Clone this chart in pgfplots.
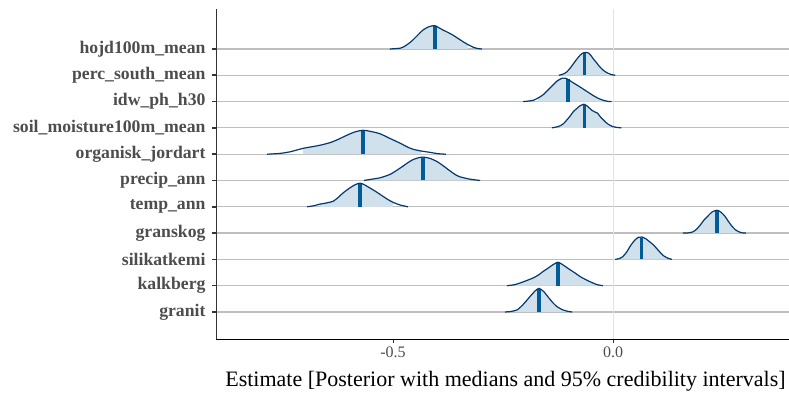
\documentclass[border=0pt]{standalone}
\usepackage{pgfplots}
\pgfplotsset{compat=1.18}
\usepackage{fontspec}
\setmainfont{Liberation Serif}
\definecolor{fillc}{HTML}{D1E1EC}
\definecolor{linec}{HTML}{03396C}
\definecolor{medc}{HTML}{005B96}
\definecolor{txtc}{HTML}{4D4D4D}
\definecolor{gridc}{HTML}{BEBEBE}
\definecolor{zeroc}{HTML}{E3E3E3}
\begin{document}
\begin{tikzpicture}
\useasboundingbox (0,0) rectangle (789bp,394bp);
\begin{axis}[
 at={(216bp,55bp)}, anchor=south west, scale only axis, width=573bp, height=330bp,
 xmin=-0.9023, xmax=0.4, ymin=-0.027, ymax=12.521,
 axis x line*=bottom, axis y line*=left,
 x axis line style={-, black, line width=0.9bp},
 y axis line style={-, black!80, line width=0.9bp},
 xtick={-0.5,0}, xticklabels={-0.5,0.0},
 ytick={1,2,3,4,5,6,7,8,9,10,11},
 yticklabels={granit,kalkberg,silikatkemi,granskog,temp\_ann,precip\_ann,organisk\_jordart,soil\_moisture100m\_mean,idw\_ph\_h30,perc\_south\_mean,hojd100m\_mean},
 tick align=outside, major tick length=4bp,
 y tick style={line width=1.6bp, black!80},
 x tick style={line width=0.8bp, black!80},
 yticklabel style={font=\fontsize{17.7bp}{20bp}\selectfont\bfseries, text=txtc, xshift=-3bp},
 xticklabel style={font=\fontsize{16bp}{18bp}\selectfont, text=txtc},
 xlabel={Estimate [Posterior with medians and 95\% credibility intervals]},
 xlabel style={font=\fontsize{22bp}{24bp}\selectfont, text=black, yshift=-7bp, xshift=3bp},
 ymajorgrids, grid style={gridc, line width=1.2bp},
]
\addplot[zeroc, line width=1bp] coordinates {(0,-0.027)(0,12.521)};
% ---------- fills (95% intervals)
\addplot[fill=fillc, draw=none] coordinates {(-0.484,11)(-0.484,11.03)(-0.475,11.09)(-0.465,11.2)(-0.455,11.34)(-0.443,11.54)(-0.432,11.72)(-0.418,11.85)(-0.405,11.89)(-0.395,11.8)(-0.386,11.72)(-0.375,11.63)(-0.364,11.53)(-0.352,11.4)(-0.341,11.28)(-0.33,11.17)(-0.33,11)};
\addplot[fill=fillc, draw=none] coordinates {(-0.113,10)(-0.113,10.05)(-0.105,10.13)(-0.097,10.28)(-0.09,10.44)(-0.082,10.62)(-0.075,10.76)(-0.068,10.85)(-0.062,10.87)(-0.056,10.85)(-0.05,10.75)(-0.045,10.63)(-0.037,10.47)(-0.03,10.32)(-0.022,10.19)(-0.014,10.1)(-0.014,10)};
\addplot[fill=fillc, draw=none] coordinates {(-0.17,9)(-0.17,9.14)(-0.158,9.27)(-0.143,9.52)(-0.128,9.77)(-0.117,9.88)(-0.108,9.89)(-0.1,9.82)(-0.09,9.71)(-0.079,9.6)(-0.068,9.48)(-0.056,9.35)(-0.045,9.23)(-0.033,9.12)(-0.022,9.05)(-0.022,9)};
\addplot[fill=fillc, draw=none] coordinates {(-0.12,8)(-0.12,8.08)(-0.112,8.17)(-0.105,8.3)(-0.097,8.46)(-0.09,8.62)(-0.082,8.74)(-0.075,8.84)(-0.066,8.9)(-0.06,8.85)(-0.054,8.76)(-0.048,8.67)(-0.042,8.61)(-0.036,8.57)(-0.031,8.47)(-0.026,8.37)(-0.018,8.24)(-0.011,8.14)(-0.002,8.06)(-0.002,8)};
\addplot[fill=fillc, draw=none] coordinates {(-0.705,7)(-0.705,7.22)(-0.682,7.29)(-0.666,7.34)(-0.643,7.44)(-0.625,7.56)(-0.605,7.72)(-0.586,7.85)(-0.568,7.91)(-0.552,7.87)(-0.53,7.78)(-0.507,7.6)(-0.484,7.42)(-0.468,7.28)(-0.455,7.19)(-0.436,7.12)(-0.436,7)};
\addplot[fill=fillc, draw=none] coordinates {(-0.552,6)(-0.552,6.04)(-0.53,6.1)(-0.507,6.23)(-0.493,6.37)(-0.477,6.55)(-0.466,6.68)(-0.455,6.79)(-0.443,6.86)(-0.432,6.89)(-0.416,6.84)(-0.4,6.72)(-0.386,6.56)(-0.37,6.36)(-0.358,6.22)(-0.348,6.14)(-0.336,6.09)(-0.325,6.05)(-0.325,6)};
\addplot[fill=fillc, draw=none] coordinates {(-0.666,5)(-0.666,5.1)(-0.65,5.15)(-0.636,5.21)(-0.625,5.35)(-0.614,5.52)(-0.598,5.72)(-0.586,5.84)(-0.575,5.9)(-0.564,5.83)(-0.552,5.71)(-0.541,5.6)(-0.53,5.48)(-0.514,5.3)(-0.5,5.17)(-0.5,5)};
\addplot[fill=fillc, draw=none] coordinates {(0.172,4)(0.172,4.01)(0.182,4.05)(0.19,4.15)(0.198,4.3)(0.206,4.48)(0.214,4.62)(0.225,4.8)(0.236,4.87)(0.245,4.8)(0.254,4.65)(0.262,4.45)(0.27,4.27)(0.278,4.13)(0.286,4.05)(0.286,4)};
\addplot[fill=fillc, draw=none] coordinates {(0.014,3)(0.014,3.03)(0.022,3.1)(0.031,3.28)(0.041,3.55)(0.05,3.74)(0.058,3.84)(0.066,3.85)(0.075,3.78)(0.084,3.66)(0.092,3.55)(0.099,3.42)(0.107,3.27)(0.114,3.15)(0.124,3.05)(0.124,3)};
\addplot[fill=fillc, draw=none] coordinates {(-0.223,2)(-0.223,2.04)(-0.205,2.14)(-0.182,2.29)(-0.17,2.4)(-0.159,2.54)(-0.148,2.66)(-0.139,2.77)(-0.125,2.89)(-0.111,2.76)(-0.098,2.61)(-0.086,2.48)(-0.075,2.35)(-0.063,2.24)(-0.052,2.15)(-0.036,2.04)(-0.036,2)};
\addplot[fill=fillc, draw=none] coordinates {(-0.232,1)(-0.232,1.02)(-0.218,1.08)(-0.205,1.27)(-0.189,1.58)(-0.177,1.8)(-0.168,1.9)(-0.157,1.77)(-0.148,1.58)(-0.136,1.34)(-0.127,1.2)(-0.114,1.08)(-0.104,1.03)(-0.104,1)};
% ---------- medians
\addplot[medc, line width=3.5bp] coordinates {(-0.405,11)(-0.405,11.87)};
\addplot[medc, line width=3.5bp] coordinates {(-0.065,10)(-0.065,10.86)};
\addplot[medc, line width=3.5bp] coordinates {(-0.102,9)(-0.102,9.86)};
\addplot[medc, line width=3.5bp] coordinates {(-0.065,8)(-0.065,8.88)};
\addplot[medc, line width=3.5bp] coordinates {(-0.568,7)(-0.568,7.89)};
\addplot[medc, line width=3.5bp] coordinates {(-0.432,6)(-0.432,6.87)};
\addplot[medc, line width=3.5bp] coordinates {(-0.575,5)(-0.575,5.88)};
\addplot[medc, line width=3.5bp] coordinates {(0.236,4)(0.236,4.85)};
\addplot[medc, line width=3.5bp] coordinates {(0.065,3)(0.065,3.83)};
\addplot[medc, line width=3.5bp] coordinates {(-0.125,2)(-0.125,2.87)};
\addplot[medc, line width=3.5bp] coordinates {(-0.168,1)(-0.168,1.88)};
% ---------- outlines
\addplot[linec, line width=1.2bp, smooth, tension=0.4] coordinates {(-0.507,11)(-0.484,11.03)(-0.475,11.09)(-0.465,11.2)(-0.455,11.34)(-0.443,11.54)(-0.432,11.72)(-0.418,11.85)(-0.405,11.89)(-0.395,11.8)(-0.386,11.72)(-0.375,11.63)(-0.364,11.53)(-0.352,11.4)(-0.341,11.28)(-0.33,11.17)(-0.318,11.07)(-0.308,11.02)(-0.298,11)};
\addplot[linec, line width=1.2bp, smooth, tension=0.4] coordinates {(-0.123,10)(-0.113,10.05)(-0.105,10.13)(-0.097,10.28)(-0.09,10.44)(-0.082,10.62)(-0.075,10.76)(-0.068,10.85)(-0.062,10.87)(-0.056,10.85)(-0.05,10.75)(-0.045,10.63)(-0.037,10.47)(-0.03,10.32)(-0.022,10.19)(-0.014,10.1)(-0.006,10.04)(0.005,10)};
\addplot[linec, line width=1.2bp, smooth, tension=0.4] coordinates {(-0.204,9)(-0.192,9.02)(-0.181,9.05)(-0.17,9.14)(-0.158,9.27)(-0.143,9.52)(-0.128,9.77)(-0.117,9.88)(-0.108,9.89)(-0.1,9.82)(-0.09,9.71)(-0.079,9.6)(-0.068,9.48)(-0.056,9.35)(-0.045,9.23)(-0.033,9.12)(-0.022,9.05)(-0.012,9.01)(-0.003,9)};
\addplot[linec, line width=1.2bp, smooth, tension=0.4] coordinates {(-0.139,8)(-0.13,8.03)(-0.12,8.08)(-0.112,8.17)(-0.105,8.3)(-0.097,8.46)(-0.09,8.62)(-0.082,8.74)(-0.075,8.84)(-0.066,8.9)(-0.06,8.85)(-0.054,8.76)(-0.048,8.67)(-0.042,8.61)(-0.036,8.57)(-0.031,8.47)(-0.026,8.37)(-0.018,8.24)(-0.011,8.14)(-0.002,8.06)(0.008,8.02)(0.019,8)};
\addplot[linec, line width=1.2bp, smooth, tension=0.4] coordinates {(-0.786,7)(-0.757,7.03)(-0.734,7.09)(-0.705,7.22)(-0.682,7.29)(-0.666,7.34)(-0.643,7.44)(-0.625,7.56)(-0.605,7.72)(-0.586,7.85)(-0.568,7.91)(-0.552,7.87)(-0.53,7.78)(-0.507,7.6)(-0.484,7.42)(-0.468,7.28)(-0.455,7.19)(-0.436,7.12)(-0.416,7.07)(-0.398,7.02)(-0.38,7)};
\addplot[linec, line width=1.2bp, smooth, tension=0.4] coordinates {(-0.566,6)(-0.552,6.04)(-0.53,6.1)(-0.507,6.23)(-0.493,6.37)(-0.477,6.55)(-0.466,6.68)(-0.455,6.79)(-0.443,6.86)(-0.432,6.89)(-0.416,6.84)(-0.4,6.72)(-0.386,6.56)(-0.37,6.36)(-0.358,6.22)(-0.348,6.14)(-0.336,6.09)(-0.325,6.05)(-0.302,6)};
\addplot[linec, line width=1.2bp, smooth, tension=0.4] coordinates {(-0.695,5)(-0.68,5.04)(-0.666,5.1)(-0.65,5.15)(-0.636,5.21)(-0.625,5.35)(-0.614,5.52)(-0.598,5.72)(-0.586,5.84)(-0.575,5.9)(-0.564,5.83)(-0.552,5.71)(-0.541,5.6)(-0.53,5.48)(-0.514,5.3)(-0.5,5.17)(-0.484,5.07)(-0.466,5)};
\addplot[linec, line width=1.2bp, smooth, tension=0.4] coordinates {(0.159,4)(0.172,4.01)(0.182,4.05)(0.19,4.15)(0.198,4.3)(0.206,4.48)(0.214,4.62)(0.225,4.8)(0.236,4.87)(0.245,4.8)(0.254,4.65)(0.262,4.45)(0.27,4.27)(0.278,4.13)(0.286,4.05)(0.294,4.01)(0.302,4)};
\addplot[linec, line width=1.2bp, smooth, tension=0.4] coordinates {(0.005,3)(0.014,3.03)(0.022,3.1)(0.031,3.28)(0.041,3.55)(0.05,3.74)(0.058,3.84)(0.066,3.85)(0.075,3.78)(0.084,3.66)(0.092,3.55)(0.099,3.42)(0.107,3.27)(0.114,3.15)(0.124,3.05)(0.134,3)};
\addplot[linec, line width=1.2bp, smooth, tension=0.4] coordinates {(-0.241,2)(-0.223,2.04)(-0.205,2.14)(-0.182,2.29)(-0.17,2.4)(-0.159,2.54)(-0.148,2.66)(-0.139,2.77)(-0.125,2.89)(-0.111,2.76)(-0.098,2.61)(-0.086,2.48)(-0.075,2.35)(-0.063,2.24)(-0.052,2.15)(-0.036,2.04)(-0.023,2)};
\addplot[linec, line width=1.2bp, smooth, tension=0.4] coordinates {(-0.245,1)(-0.232,1.02)(-0.218,1.08)(-0.205,1.27)(-0.189,1.58)(-0.177,1.8)(-0.168,1.9)(-0.157,1.77)(-0.148,1.58)(-0.136,1.34)(-0.127,1.2)(-0.114,1.08)(-0.104,1.03)(-0.093,1)};
\end{axis}
\end{tikzpicture}
\end{document}
